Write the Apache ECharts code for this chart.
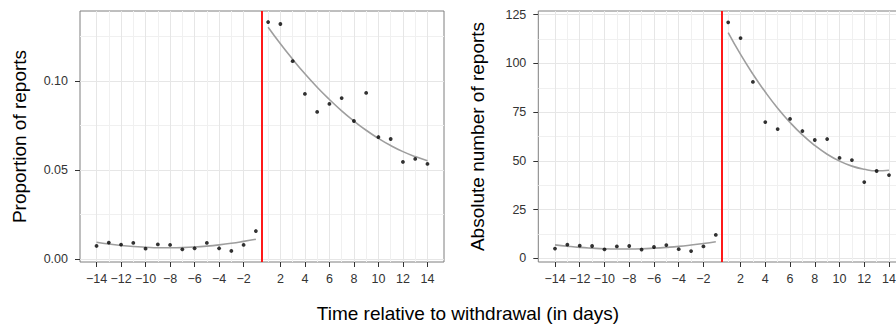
<!DOCTYPE html>
<html>
<head>
<meta charset="utf-8">
<script src="https://cdn.jsdelivr.net/npm/echarts@6/dist/echarts.min.js"></script>
<style>
html,body{margin:0;padding:0;background:#fff;}
#chart{width:896px;height:326px;}
</style>
</head>
<body>
<div id="chart"></div>
<script>
// ---- data ----
const days = [-14,-13,-12,-11,-10,-9,-8,-7,-6,-5,-4,-3,-2,-1,1,2,3,4,5,6,7,8,9,10,11,12,13,14];
const preDays = days.slice(0, 14);
const postDays = days.slice(14);

const propPoints = [0.0073,0.0092,0.0081,0.0090,0.0058,0.0082,0.0079,0.0054,0.0060,0.0090,0.0060,0.0045,0.0079,0.0157,
                    0.1331,0.1320,0.1111,0.0927,0.0826,0.0871,0.0904,0.0775,0.0933,0.0685,0.0674,0.0545,0.0562,0.0534];
const propFitPre  = [0.0094,0.0084,0.0076,0.0070,0.0066,0.0063,0.0063,0.0064,0.0067,0.0072,0.0079,0.0088,0.0099,0.0111];
const propFitPost = [0.1302,0.1209,0.1122,0.1040,0.0965,0.0896,0.0832,0.0775,0.0723,0.0677,0.0637,0.0603,0.0575,0.0552];

const countPoints = [5.0,7.0,6.5,6.3,4.6,6.1,6.3,4.5,5.8,6.8,4.7,3.7,6.1,12.0,
                     121.1,113.0,90.5,69.9,66.3,71.5,65.3,60.7,61.2,51.5,50.4,39.1,44.8,42.7];
const countFitPre  = [6.9,6.2,5.6,5.2,4.9,4.8,4.8,4.9,5.2,5.6,6.1,6.8,7.6,8.5];
const countFitPost = [115.8,104.6,94.5,85.3,77.0,69.7,63.3,57.9,53.4,49.9,47.3,45.7,44.9,45.2];

const labeledDays = [-14,-12,-10,-8,-6,-4,-2,2,4,6,8,10,12,14];
const minorDays = [-13,-11,-9,-7,-5,-3,1,3,5,7,9,11,13];
const propTicks = [0, 0.05, 0.10];
const propMinor = [0.025, 0.075, 0.125];
const countTicks = [0, 25, 50, 75, 100, 125];
const countMinor = [12.5, 37.5, 62.5, 87.5, 112.5];
const withdrawalDay = 0;

const xTitle = 'Time relative to withdrawal (in days)';
const yTitleLeft = 'Proportion of reports';
const yTitleRight = 'Absolute number of reports';

// ---- axis position mapping (there is no day 0) ----
const toPos = d => d < 0 ? d : d - 1;
const fromPos = p => { const r = Math.round(p); return r < 0 ? r : r + 1; };
const splitPos = withdrawalDay - 0.5;
const fmtDay = v => { const d = fromPos(v); return d < 0 ? '\u2212' + (-d) : String(d); };

const X_MIN = -15.35, X_MAX = 14.35;
const FONT = '"Liberation Sans", Arial, Helvetica, sans-serif';
const MAJOR = '#e6e6e6', MINOR = '#f0f0f0';

function pairs(ds, vs) { return ds.map((d, i) => [toPos(d), vs[i]]); }

function xAxes(grid) {
  return [
    { type:'value', gridIndex:grid, min:X_MIN, max:X_MAX, position:'bottom',
      axisLine:{show:false, onZero:false},
      axisTick:{show:true, length:5, lineStyle:{color:'#333', width:1}, customValues: labeledDays.map(toPos)},
      axisLabel:{show:true, margin:10, color:'#333', fontSize:12.5, fontFamily:FONT, customValues: labeledDays.map(toPos), formatter: fmtDay},
      splitLine:{show:true, lineStyle:{color:MAJOR, width:1}} },
    { type:'value', gridIndex:grid, min:X_MIN, max:X_MAX, position:'top',
      axisLine:{show:false, onZero:false},
      axisTick:{show:false, customValues: minorDays.map(toPos).concat([splitPos])},
      axisLabel:{show:false},
      splitLine:{show:true, lineStyle:{color:MINOR, width:1}} }
  ];
}
function yAxes(grid, min, max, ticks, minor, fmt) {
  return [
    { type:'value', gridIndex:grid, min:min, max:max, position:'left',
      axisLine:{show:false, onZero:false},
      axisTick:{show:true, length:5, lineStyle:{color:'#333', width:1}, customValues: ticks},
      axisLabel:{show:true, margin:12, color:'#333', fontSize:12.5, fontFamily:FONT, customValues: ticks, formatter: fmt},
      splitLine:{show:true, lineStyle:{color:MAJOR, width:1}} },
    { type:'value', gridIndex:grid, min:min, max:max, position:'right',
      axisLine:{show:false, onZero:false},
      axisTick:{show:false, customValues: minor},
      axisLabel:{show:false},
      splitLine:{show:true, lineStyle:{color:MINOR, width:1}} }
  ];
}

function panelSeries(xi, yi, pts, fitPre, fitPost) {
  const fitStyle = {color:'#9e9e9e', width:1.6};
  return [
    { type:'line', xAxisIndex:xi, yAxisIndex:yi, data: pairs(preDays, fitPre), smooth:true,
      showSymbol:false, lineStyle:fitStyle, z:3, silent:true },
    { type:'line', xAxisIndex:xi, yAxisIndex:yi, data: pairs(postDays, fitPost), smooth:true,
      showSymbol:false, lineStyle:fitStyle, z:3, silent:true },
    { type:'scatter', xAxisIndex:xi, yAxisIndex:yi, data: pairs(days, pts), symbolSize:3.8,
      itemStyle:{color:'#000'}, z:5, silent:true,
      markLine:{ silent:true, symbol:['none','none'], label:{show:false},
        lineStyle:{color:'#ff0000', width:1.8, type:'solid'},
        data:[{xAxis: splitPos}] } }
  ];
}

const chart = echarts.init(document.getElementById('chart'), null, {renderer:'svg'});
chart.setOption({
  animation:false,
  backgroundColor:'#ffffff',
  grid:[
    {left:80, top:11, width:364, height:251, show:true, borderColor:'#7f7f7f', borderWidth:1, backgroundColor:'transparent', outerBoundsMode:'none'},
    {left:538.3, top:11, width:367.4, height:251, show:true, borderColor:'#7f7f7f', borderWidth:1, backgroundColor:'transparent', outerBoundsMode:'none'}
  ],
  xAxis: xAxes(0).concat(xAxes(1)),
  yAxis: yAxes(0, -0.0017, 0.1393, propTicks, propMinor, v => v.toFixed(2))
    .concat(yAxes(1, -1.9, 126.9, countTicks, countMinor, v => String(Math.round(v)))),
  series: panelSeries(0, 0, propPoints, propFitPre, propFitPost)
    .concat(panelSeries(2, 2, countPoints, countFitPre, countFitPost)),
  graphic:[
    {type:'text', x:468, y:313.4, silent:true,
     style:{text:xTitle, font:'19px ' + FONT, fill:'#000', textAlign:'center', textVerticalAlign:'middle'}},
    {type:'text', x:19, y:136.5, rotation:Math.PI/2, silent:true,
     style:{text:yTitleLeft, font:'19px ' + FONT, fill:'#000', textAlign:'center', textVerticalAlign:'middle'}},
    {type:'text', x:477, y:136.5, rotation:Math.PI/2, silent:true,
     style:{text:yTitleRight, font:'19px ' + FONT, fill:'#000', textAlign:'center', textVerticalAlign:'middle'}}
  ]
});
</script>
</body>
</html>
